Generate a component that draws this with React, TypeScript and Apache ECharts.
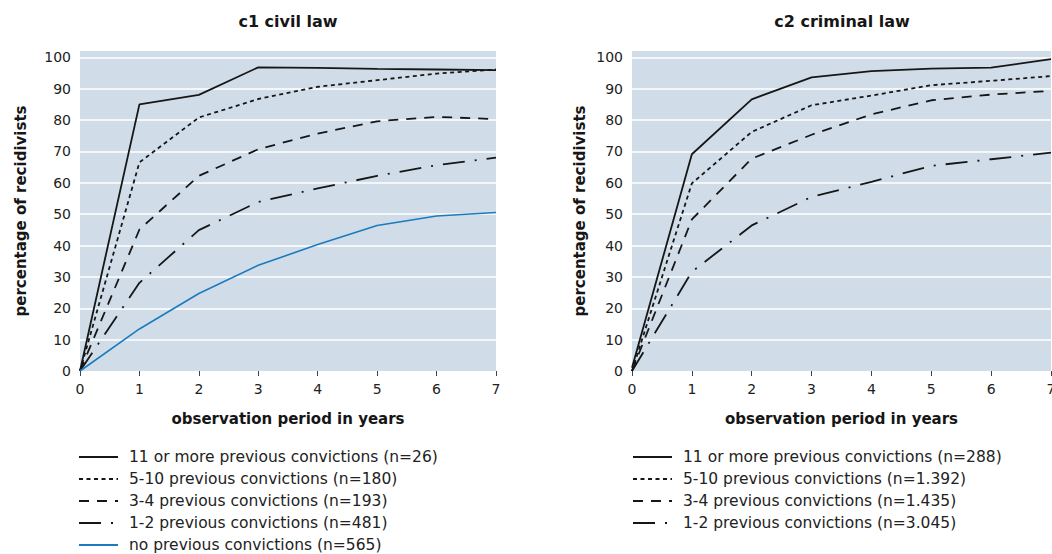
import * as echarts from "echarts"
import { useEffect, useRef } from "react"

const years = [0, 1, 2, 3, 4, 5, 6, 7]
const yTicks = [0, 10, 20, 30, 40, 50, 60, 70, 80, 90, 100]

const civilNames = [
    "11 or more previous convictions (n=26)",
    "5-10 previous convictions (n=180)",
    "3-4 previous convictions (n=193)",
    "1-2 previous convictions (n=481)",
    "no previous convictions (n=565)",
]
const civil11plus = [0, 85, 88, 96.8, 96.6, 96.3, 96.1, 95.9]
const civil5to10 = [0, 66.5, 80.8, 86.7, 90.6, 92.7, 94.8, 96.1]
const civil3to4 = [0, 45.1, 62.2, 70.7, 75.7, 79.6, 81.0, 80.3]
const civil1to2 = [0, 28.1, 44.9, 53.9, 58.2, 62.2, 65.6, 68.0]
const civilNone = [0, 13.4, 24.7, 33.7, 40.3, 46.4, 49.4, 50.5]

const criminalNames = [
    "11 or more previous convictions (n=288)",
    "5-10 previous convictions (n=1.392)",
    "3-4 previous convictions (n=1.435)",
    "1-2 previous convictions (n=3.045)",
]
const criminal11plus = [1, 69.1, 86.6, 93.6, 95.6, 96.4, 96.7, 99.4]
const criminal5to10 = [0, 59.8, 76.2, 84.7, 87.8, 91.1, 92.5, 94.0]
const criminal3to4 = [0, 48.3, 67.7, 75.3, 81.8, 86.3, 88.1, 89.3]
const criminal1to2 = [0, 31.6, 46.4, 55.5, 60.3, 65.4, 67.5, 69.6]

const BG = "#d0dde8"
const INK = "#161616"
const BLUE = "#1b7bbd"
const FONT = "DejaVu Sans"

// dash patterns per group, same order as the names
const dashes: any[] = ["solid", [4, 3.5], [10, 8], [22, 10, 2, 10], "solid"]
const colors = [INK, INK, INK, INK, BLUE]

const makeSeries = (names: string[], values: number[][], axis: number) =>
    values.map((vals, i) => ({
        name: names[i],
        type: "line",
        xAxisIndex: axis,
        yAxisIndex: axis,
        symbol: "none",
        showSymbol: false,
        lineStyle: { color: colors[i], width: i === 4 ? 1.6 : 1.8, type: dashes[i] },
        itemStyle: { color: colors[i] },
        data: years.map((y, k) => [y, vals[k]]),
    }))

const xAxisFor = (grid: number) => ({
    type: "value",
    gridIndex: grid,
    min: 0,
    max: 7,
    interval: 1,
    name: "observation period in years",
    nameLocation: "middle",
    nameGap: 40,
    nameTextStyle: { fontFamily: FONT, fontWeight: "bold", fontSize: 15, color: INK },
    axisLine: { show: false },
    axisTick: { show: true, length: 5, lineStyle: { color: "#444", width: 1 } },
    axisLabel: { margin: 11, fontFamily: FONT, fontSize: 14, color: "#222" },
    splitLine: { show: false },
})

const yAxisFor = (grid: number, gap: number) => ({
    type: "value",
    gridIndex: grid,
    min: 0,
    max: 102,
    interval: 10,
    name: "percentage of recidivists",
    nameLocation: "middle",
    nameGap: gap,
    nameTextStyle: { fontFamily: FONT, fontWeight: "bold", fontSize: 15, color: INK },
    axisLine: { show: false },
    axisTick: { show: false },
    axisLabel: {
        margin: 9,
        fontFamily: FONT,
        fontSize: 14,
        color: "#222",
        formatter: (v: number) => (yTicks.includes(v) ? String(v) : ""),
    },
    splitLine: {
        show: true,
        lineStyle: {
            width: 1.5,
            color: yTicks.map((v) => (v === 0 ? "rgba(0,0,0,0)" : "#ffffff")).concat(["rgba(0,0,0,0)"]),
        },
    },
})

const legendFor = (names: string[], left: number) => ({
    orient: "vertical",
    left,
    top: 449,
    padding: 0,
    itemWidth: 39,
    itemHeight: 16,
    itemGap: 6,
    data: names,
    itemStyle: { opacity: 0 },
    textStyle: { fontFamily: FONT, fontSize: 15.5, color: "#222", padding: [0, 0, 0, 6] },
})

const App: React.FC = () => {
    const ref = useRef<HTMLDivElement | null>(null)

    useEffect(() => {
        document.body.style.margin = "0"
        const chart = echarts.init(ref.current!, null, { renderer: "svg" })

        chart.setOption({
            animation: false,
            backgroundColor: "#ffffff",
            title: [
                { text: "c1 civil law", left: 288, top: 13, padding: 0, textAlign: "center",
                  textStyle: { fontFamily: FONT, fontWeight: "bold", fontSize: 16, color: INK } },
                { text: "c2 criminal law", left: 842, top: 13, padding: 0, textAlign: "center",
                  textStyle: { fontFamily: FONT, fontWeight: "bold", fontSize: 16, color: INK } },
            ],
            grid: [
                { left: 80, top: 51, width: 416, height: 320, show: true, backgroundColor: BG, borderWidth: 0,
                  outerBoundsMode: "none" },
                { left: 632, top: 51, width: 419, height: 320, show: true, backgroundColor: BG, borderWidth: 0,
                  outerBoundsMode: "none" },
            ],
            xAxis: [xAxisFor(0), xAxisFor(1)],
            yAxis: [yAxisFor(0, 52), yAxisFor(1, 45)],
            legend: [legendFor(civilNames, 78), legendFor(criminalNames, 632)],
            series: [
                ...makeSeries(civilNames, [civil11plus, civil5to10, civil3to4, civil1to2, civilNone], 0),
                ...makeSeries(criminalNames, [criminal11plus, criminal5to10, criminal3to4, criminal1to2], 1),
            ],
        })

        return () => {
            chart.dispose()
        }
    }, [])

    return <div ref={ref} style={{ width: 1052, height: 554 }}></div>
}

export default App
